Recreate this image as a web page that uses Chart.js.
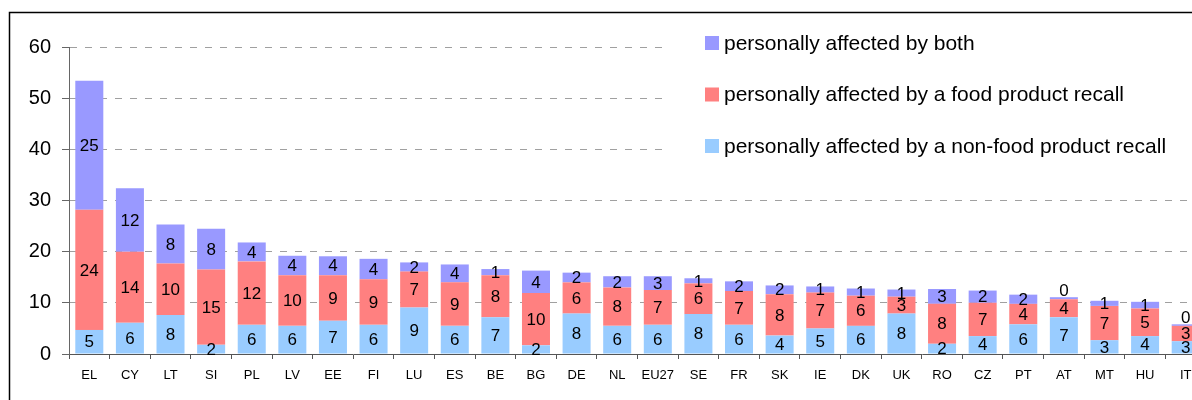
<!DOCTYPE html>
<html lang="en">
<head>
<meta charset="UTF-8">
<title>Personally affected by a product recall</title>
<script src="https://cdn.jsdelivr.net/npm/chart.js"></script>
<style>
  html, body { margin: 0; padding: 0; background: #fff; overflow: hidden; }
</style>
</head>
<body>
<canvas id="recallChart" width="1206" height="400"></canvas>
<script>
const countries = ['EL','CY','LT','SI','PL','LV','EE','FI','LU','ES','BE','BG','DE','NL','EU27','SE','FR','SK','IE','DK','UK','RO','CZ','PT','AT','MT','HU','IT'];
const nonFood = [4.7, 6.1, 7.6, 1.8, 5.7, 5.5, 6.5, 5.7, 9.1, 5.5, 7.2, 1.7, 7.9, 5.5, 5.7, 7.8, 5.7, 3.6, 5.0, 5.5, 7.9, 2.0, 3.5, 5.8, 7.2, 2.7, 3.5, 2.5];
const food = [23.5, 13.9, 10.1, 14.7, 12.4, 9.9, 8.9, 8.9, 7.0, 8.5, 8.2, 10.2, 6.1, 7.5, 6.8, 6.0, 6.6, 8.1, 7.0, 5.9, 3.3, 7.8, 6.5, 4.0, 3.5, 6.7, 5.4, 3.0];
const both = [25.2, 12.4, 7.6, 8.0, 3.7, 3.8, 3.7, 4.0, 1.8, 3.5, 1.2, 4.4, 1.9, 2.2, 2.7, 1.0, 1.9, 1.7, 1.2, 1.4, 1.4, 2.9, 2.4, 1.8, 0.4, 1.0, 1.3, 0.3];
const yTicks = [0, 10, 20, 30, 40, 50, 60];

const FONT = 'Arial, "Liberation Sans", sans-serif';

// frame lines of the figure box
const framePlugin = {
    id: 'frame',
    beforeDraw(chart) {
        const ctx = chart.ctx;
        ctx.save();
        ctx.strokeStyle = '#000';
        ctx.lineWidth = 1.5;
        ctx.beginPath();
        ctx.moveTo(9.5, 400);
        ctx.lineTo(9.5, 12.5);
        ctx.lineTo(chart.width, 12.5);
        ctx.stroke();
        ctx.restore();
    }
};

// numbers inside the stacked segments
const valueLabels = {
    id: 'valueLabels',
    afterDatasetsDraw(chart) {
        const ctx = chart.ctx;
        ctx.save();
        ctx.font = '17px ' + FONT;
        ctx.fillStyle = '#000';
        ctx.textAlign = 'center';
        ctx.textBaseline = 'middle';
        chart.data.datasets.forEach((ds, i) => {
            const meta = chart.getDatasetMeta(i);
            meta.data.forEach((bar, j) => {
                const v = Math.round(ds.data[j]);
                const p = bar.getProps(['x', 'y', 'base'], true);
                let y = (p.y + p.base) / 2;
                if (v === 0) y = p.y - 7;
                ctx.fillText(String(v), p.x, y + 1);
            });
        });
        ctx.restore();
    }
};

// legend box drawn over the gridlines, top right
const legendBox = {
    id: 'legendBox',
    afterDraw(chart) {
        const ctx = chart.ctx;
        ctx.save();
        ctx.fillStyle = '#fff';
        ctx.fillRect(662, 28, chart.width - 662, 150);
        ctx.font = '21px ' + FONT;
        ctx.textBaseline = 'middle';
        ctx.textAlign = 'left';
        const order = chart.data.datasets.slice().reverse();
        order.forEach((ds, k) => {
            const cy = 43 + k * 51.5;
            ctx.fillStyle = ds.backgroundColor;
            ctx.fillRect(705, cy - 7, 14, 14);
            ctx.fillStyle = '#000';
            ctx.fillText(ds.label, 724, cy + 1);
        });
        ctx.restore();
    }
};

new Chart(document.getElementById('recallChart'), {
    type: 'bar',
    data: {
        labels: countries,
        datasets: [
            { label: 'personally affected by a non-food product recall', data: nonFood, backgroundColor: '#99CCFF' },
            { label: 'personally affected by a food product recall', data: food, backgroundColor: '#FF8080' },
            { label: 'personally affected by both', data: both, backgroundColor: '#9999FF' }
        ]
    },
    options: {
        responsive: false,
        animation: false,
        devicePixelRatio: 1,
        barPercentage: 0.69,
        categoryPercentage: 1,
        layout: { padding: { top: 47, right: 0, bottom: 0, left: 0 } },
        plugins: {
            legend: { display: false },
            tooltip: { enabled: false }
        },
        scales: {
            x: {
                stacked: true,
                offset: true,
                afterFit: s => { s.height = 46; },
                grid: {
                    offset: true,
                    drawOnChartArea: false,
                    drawTicks: true,
                    tickLength: 5,
                    tickColor: '#555'
                },
                border: { display: true, color: '#555', width: 1 },
                ticks: {
                    color: '#000',
                    font: { family: FONT, size: 13 },
                    padding: 9,
                    maxRotation: 0,
                    autoSkip: false
                }
            },
            y: {
                stacked: true,
                min: 0,
                max: 60,
                afterFit: s => { s.width = 69; },
                afterBuildTicks: s => { s.ticks = yTicks.map(v => ({ value: v })); },
                grid: {
                    color: c => (c.tick && c.tick.value === 0) ? 'rgba(0,0,0,0)' : '#a0a0a0',
                    lineWidth: 1,
                    tickLength: 7,
                    tickColor: '#666'
                },
                border: { display: true, color: '#666', width: 1, dash: [7, 8] },
                ticks: {
                    color: '#000',
                    font: { family: FONT, size: 20 },
                    padding: 11
                }
            }
        }
    },
    plugins: [framePlugin, valueLabels, legendBox]
});
</script>
</body>
</html>
